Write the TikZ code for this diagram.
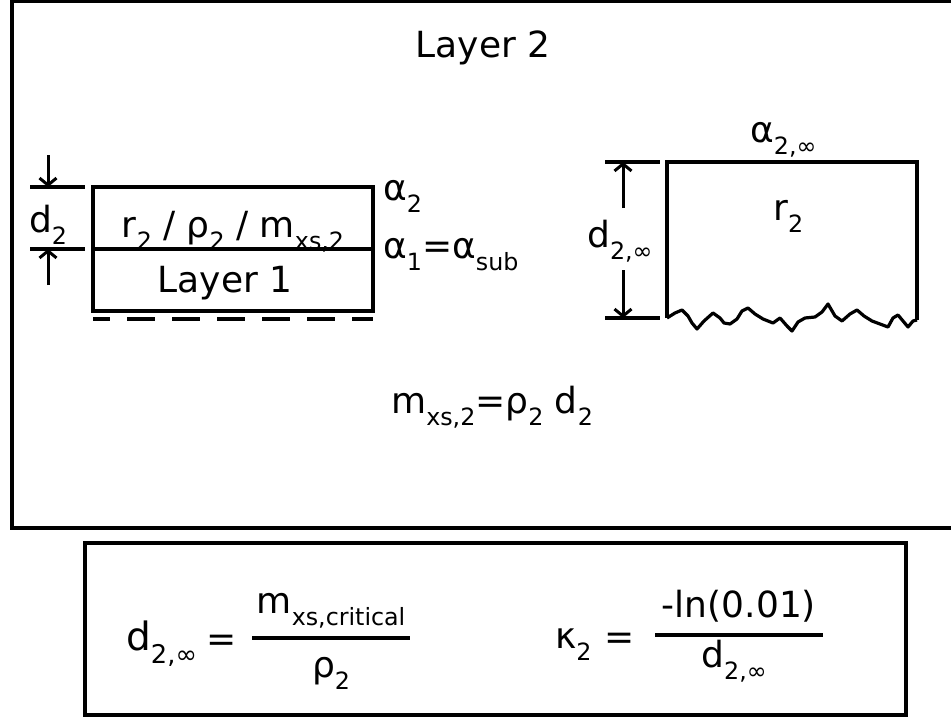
\documentclass[tikz,border=0pt]{standalone}
\usepackage{fontspec}
\setmainfont{DejaVu Sans}
\usetikzlibrary{arrows.meta, positioning}
\newcommand{\lo}[1]{\raisebox{-0.34em}{\scalebox{0.66}{#1}}}

\begin{document}
\begin{tikzpicture}[
    x=1pt, y=-1pt,
    >={Straight Barb[length=7pt, width=17pt]},
    frame/.style={line width=3.4pt},
    edge/.style={line width=3.2pt},
    arr/.style={->, line width=3pt},
    lbl/.style={inner sep=0pt, font=\fontsize{36}{40}\selectfont},
]
\useasboundingbox (0,0) rectangle (951,717);

% --- Frames ---
\draw[frame] (12,1) rectangle (965,528);
\draw[frame] (85,543) rectangle (906,715);

% --- Title ---
\node[lbl, anchor=base] (title) at (483,58) {Layer 2};

% --- Two-layer stack ---
\coordinate (st_nw) at (93,187);
\coordinate (st_se) at (373,311);
\coordinate (st_mw) at (93,249);
\coordinate (st_me) at (373,249);
\draw[edge] (st_nw) rectangle (st_se);
\draw[edge] (st_mw) -- (st_me);
\draw[edge, dash pattern=on 28pt off 17pt, dash phase=11pt] (93,319) -- (373,319);

\node[lbl, anchor=base] (film) at (233,237) {r\lo{2} / ρ\lo{2} / m\lo{xs,2}};
\node[lbl, anchor=base] (sub) at (225,292) {Layer 1};
\node[lbl, anchor=base west] (a2) at (383,200) {α\lo{2}};
\node[lbl, anchor=base west] (a1) at (383,258) {α\lo{1}=α\lo{sub}};

% --- Thickness d2 ---
\coordinate (d2_top) at (48,187);
\coordinate (d2_bot) at (48,249);
\coordinate (d2_a) at (48,155);
\coordinate (d2_b) at (48,285);
\draw[edge] (30,187) -- (85,187);
\draw[edge] (30,249) -- (85,249);
\draw[arr] (d2_a) -- (d2_top);
\draw[arr] (d2_b) -- (d2_bot);
\node[lbl, anchor=base] (d2) at (48,232) {d\lo{2}};

% --- Semi-infinite layer ---
\draw[edge] (667,318) -- (667,162) -- (917,162) -- (917,320);
\draw[edge, line join=round] plot coordinates {
    (667,318) (675,313) (682,310) (688,316) (692,323) (697,329) (704,321)
    (713,313) (720,318) (724,323) (730,324) (737,319) (742,311) (748,308)
    (755,314) (763,319) (773,323) (780,318) (787,326) (792,331) (798,322)
    (805,318) (815,317) (822,312) (828,304) (835,316) (842,321) (850,314)
    (857,310) (864,316) (872,321) (880,324) (888,327) (893,318) (898,315)
    (903,321) (908,327) (913,321) (917,320)};

\node[lbl, anchor=base west] (ainf) at (750,142) {α\lo{2,∞}};
\node[lbl, anchor=base west] (r2) at (773,220) {r\lo{2}};

% --- Thickness d2,inf ---
\coordinate (di_top) at (623,162);
\coordinate (di_bot) at (623,318);
\coordinate (di_a) at (623,208);
\coordinate (di_b) at (623,270);
\draw[edge] (605,162) -- (660,162);
\draw[edge] (605,318) -- (660,318);
\draw[arr] (di_a) -- (di_top);
\draw[arr] (di_b) -- (di_bot);
\node[lbl, anchor=base west] (dinf) at (587,247) {d\lo{2,∞}};

% --- Mass relation ---
\node[lbl, anchor=base west] (mass) at (391,413) {m\lo{xs,2}=ρ\lo{2} d\lo{2}};

% --- Formulas ---
\node[lbl, anchor=base west, font=\fontsize{39}{42}\selectfont] (f1_l) at (126,650) {d\lo{2,∞}};
\node[lbl, anchor=base] (f1_eq) at (222,651) {=};
\node[lbl, anchor=base] (f1_num) at (331,613) {m\lo{xs,critical}};
\node[lbl, anchor=base] (f1_den) at (331,677) {ρ\lo{2}};
\draw[edge] (252,638) -- (410,638);

\node[lbl, anchor=base west] (f2_l) at (555,648) {κ\lo{2}};
\node[lbl, anchor=base] (f2_eq) at (620,649) {=};
\node[lbl, anchor=base] (f2_num) at (739,617) {-ln(0.01)};
\node[lbl, anchor=base] (f2_den) at (734,667) {d\lo{2,∞}};
\draw[edge] (655,635) -- (823,635);

\end{tikzpicture}
\end{document}
